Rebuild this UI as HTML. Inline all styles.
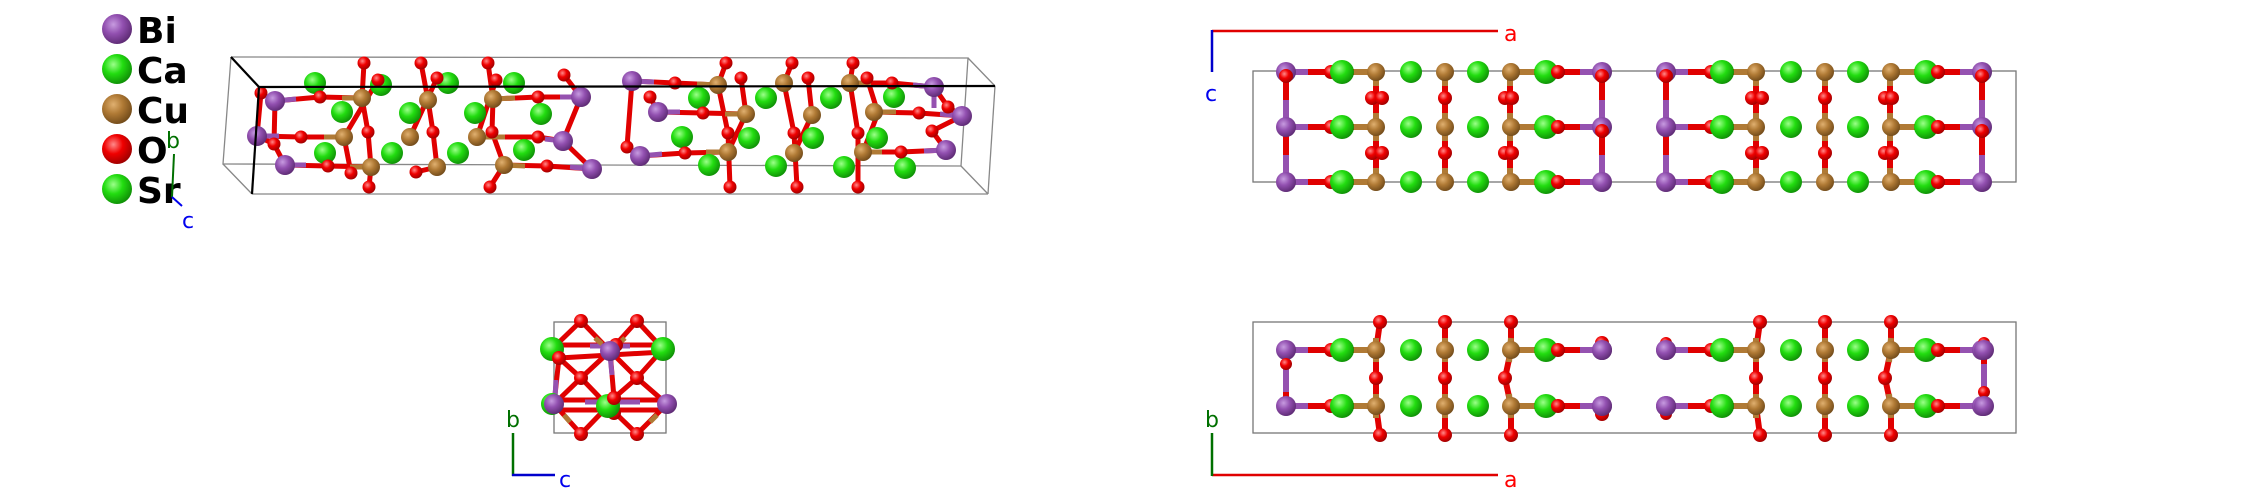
<!DOCTYPE html>
<html><head><meta charset="utf-8"><style>
html,body{margin:0;padding:0;background:#fff;}
svg{display:block;}
.lg{font-family:"DejaVu Sans","Liberation Sans",sans-serif;font-weight:bold;font-size:36px;fill:#000;}
.ax{font-family:"DejaVu Sans","Liberation Sans",sans-serif;font-size:22px;}
</style></head><body>
<svg width="2244" height="504" viewBox="0 0 2244 504" xmlns="http://www.w3.org/2000/svg">
<defs>
<radialGradient id="gBi" cx="0.38" cy="0.35" r="0.7"><stop offset="0" stop-color="#c79be0"/><stop offset="0.45" stop-color="#9250b0"/><stop offset="1" stop-color="#5a2870"/></radialGradient>
<radialGradient id="gG" cx="0.38" cy="0.35" r="0.7"><stop offset="0" stop-color="#9cff8a"/><stop offset="0.45" stop-color="#22dd10"/><stop offset="1" stop-color="#0e8a06"/></radialGradient>
<radialGradient id="gCu" cx="0.38" cy="0.35" r="0.7"><stop offset="0" stop-color="#e0b070"/><stop offset="0.45" stop-color="#b07a35"/><stop offset="1" stop-color="#6e4818"/></radialGradient>
<radialGradient id="gO" cx="0.38" cy="0.35" r="0.7"><stop offset="0" stop-color="#ff8a8a"/><stop offset="0.45" stop-color="#f00000"/><stop offset="1" stop-color="#990000"/></radialGradient>

<g id="trh">
 <g stroke-width="6" fill="none">
  <g stroke="#e00000">
   <line x1="1286" y1="72" x2="1286" y2="182"/>
   <line x1="1602" y1="72" x2="1602" y2="182"/>
   <line x1="1376" y1="72" x2="1376" y2="182"/>
   <line x1="1445" y1="72" x2="1445" y2="182"/>
   <line x1="1510" y1="72" x2="1510" y2="182"/>
  </g>
  <g stroke="#9552b0">
   <line x1="1286" y1="100" x2="1286" y2="127"/><line x1="1286" y1="155" x2="1286" y2="182"/>
   <line x1="1602" y1="100" x2="1602" y2="127"/><line x1="1602" y1="155" x2="1602" y2="182"/>
  </g>
  <g stroke="#b07a35">
   <line x1="1376" y1="72" x2="1376" y2="86"/><line x1="1376" y1="113" x2="1376" y2="141"/><line x1="1376" y1="168" x2="1376" y2="182"/>
   <line x1="1445" y1="72" x2="1445" y2="86"/><line x1="1445" y1="113" x2="1445" y2="141"/><line x1="1445" y1="168" x2="1445" y2="182"/>
   <line x1="1510" y1="72" x2="1510" y2="86"/><line x1="1510" y1="113" x2="1510" y2="141"/><line x1="1510" y1="168" x2="1510" y2="182"/>
  </g>
  <g id="trrow">
   <line x1="1286" y1="72" x2="1308" y2="72" stroke="#9552b0"/>
   <line x1="1308" y1="72" x2="1354" y2="72" stroke="#e00000"/>
   <line x1="1354" y1="72" x2="1376" y2="72" stroke="#b07a35"/>
   <line x1="1510" y1="72" x2="1534" y2="72" stroke="#b07a35"/>
   <line x1="1534" y1="72" x2="1580" y2="72" stroke="#e00000"/>
   <line x1="1580" y1="72" x2="1602" y2="72" stroke="#9552b0"/>
  </g>
  <use href="#trrow" y="55"/><use href="#trrow" y="110"/>
 </g>
 <g id="tratoms">
  <circle cx="1286" cy="72" r="10" fill="url(#gBi)"/>
  <circle cx="1331" cy="72" r="7" fill="url(#gO)"/>
  <circle cx="1342" cy="72" r="12" fill="url(#gG)"/>
  <circle cx="1376" cy="72" r="9" fill="url(#gCu)"/>
  <circle cx="1411" cy="72" r="11" fill="url(#gG)"/>
  <circle cx="1445" cy="72" r="9" fill="url(#gCu)"/>
  <circle cx="1478" cy="72" r="11" fill="url(#gG)"/>
  <circle cx="1511" cy="72" r="9" fill="url(#gCu)"/>
  <circle cx="1546" cy="72" r="12" fill="url(#gG)"/>
  <circle cx="1558" cy="72" r="7" fill="url(#gO)"/>
  <circle cx="1602" cy="72" r="10" fill="url(#gBi)"/>
 </g>
 <use href="#tratoms" y="55"/><use href="#tratoms" y="110"/>
 <circle cx="1286" cy="76" r="7" fill="url(#gO)"/>
 <circle cx="1602" cy="76" r="7" fill="url(#gO)"/>
 <circle cx="1602" cy="131" r="7" fill="url(#gO)"/>
 <g id="trmid" fill="url(#gO)">
  <circle cx="1372" cy="98" r="7"/><circle cx="1382" cy="98" r="7"/>
  <circle cx="1445" cy="98" r="7"/>
  <circle cx="1505" cy="98" r="7"/><circle cx="1512" cy="98" r="7"/>
 </g>
 <use href="#trmid" y="55"/>
</g>

<g id="brh">
 <g stroke-width="6" fill="none">
  <g stroke="#e00000">
   <line x1="1380" y1="322" x2="1376" y2="350"/><line x1="1376" y1="350" x2="1376" y2="406"/><line x1="1376" y1="406" x2="1380" y2="435"/>
   <line x1="1445" y1="322" x2="1445" y2="435"/>
   <line x1="1511" y1="322" x2="1511" y2="350"/><line x1="1511" y1="350" x2="1505" y2="378"/><line x1="1505" y1="378" x2="1511" y2="406"/><line x1="1511" y1="406" x2="1511" y2="435"/>
  </g>
  <g stroke="#b07a35">
   <line x1="1376" y1="338" x2="1376" y2="362"/><line x1="1376" y1="394" x2="1376" y2="418"/>
   <line x1="1445" y1="338" x2="1445" y2="362"/><line x1="1445" y1="394" x2="1445" y2="418"/>
   <line x1="1511" y1="338" x2="1509" y2="362"/><line x1="1509" y1="394" x2="1511" y2="418"/>
  </g>
  <g id="brrow">
   <line x1="1286" y1="350" x2="1308" y2="350" stroke="#9552b0"/>
   <line x1="1308" y1="350" x2="1354" y2="350" stroke="#e00000"/>
   <line x1="1354" y1="350" x2="1376" y2="350" stroke="#b07a35"/>
   <line x1="1511" y1="350" x2="1534" y2="350" stroke="#b07a35"/>
   <line x1="1534" y1="350" x2="1580" y2="350" stroke="#e00000"/>
   <line x1="1580" y1="350" x2="1602" y2="350" stroke="#9552b0"/>
  </g>
  <use href="#brrow" y="56"/>
 </g>
 <g fill="url(#gO)">
  <circle cx="1380" cy="322" r="7"/><circle cx="1380" cy="435" r="7"/><circle cx="1376" cy="378" r="7"/>
  <circle cx="1445" cy="322" r="7"/><circle cx="1445" cy="435" r="7"/><circle cx="1445" cy="378" r="7"/>
  <circle cx="1511" cy="322" r="7"/><circle cx="1511" cy="435" r="7"/><circle cx="1505" cy="378" r="7"/>
 </g>
 <g id="bratoms">
  <circle cx="1286" cy="350" r="10" fill="url(#gBi)"/>
  <circle cx="1331" cy="350" r="7" fill="url(#gO)"/>
  <circle cx="1342" cy="350" r="12" fill="url(#gG)"/>
  <circle cx="1376" cy="350" r="9" fill="url(#gCu)"/>
  <circle cx="1411" cy="350" r="11" fill="url(#gG)"/>
  <circle cx="1445" cy="350" r="9" fill="url(#gCu)"/>
  <circle cx="1478" cy="350" r="11" fill="url(#gG)"/>
  <circle cx="1511" cy="350" r="9" fill="url(#gCu)"/>
  <circle cx="1546" cy="350" r="12" fill="url(#gG)"/>
  <circle cx="1558" cy="350" r="7" fill="url(#gO)"/>
  <circle cx="1602" cy="350" r="10" fill="url(#gBi)"/>
 </g>
 <use href="#bratoms" y="56"/>
</g>
</defs>

<!-- Legend -->
<circle cx="117" cy="29" r="15" fill="url(#gBi)"/>
<circle cx="117" cy="69" r="15" fill="url(#gG)"/>
<circle cx="117" cy="109" r="15" fill="url(#gCu)"/>
<circle cx="117" cy="149" r="15" fill="url(#gO)"/>
<circle cx="117" cy="189" r="15" fill="url(#gG)"/>
<text class="lg" x="137" y="43">Bi</text>
<text class="lg" x="137" y="83">Ca</text>
<text class="lg" x="137" y="123">Cu</text>
<text class="lg" x="137" y="163">O</text>
<text class="lg" x="137" y="203">Sr</text>
<line x1="174" y1="154" x2="172" y2="197" stroke="#007000" stroke-width="2"/>
<line x1="172" y1="197" x2="182" y2="206" stroke="#0000ee" stroke-width="2"/>
<text class="ax" x="166" y="148" fill="#007000">b</text>
<text class="ax" x="182" y="228" fill="#0000ee">c</text>

<g stroke="#888" stroke-width="1.3" fill="none">
 <polyline points="231,57 968,58 961,166 223,164 231,57"/>
 <line x1="968" y1="58" x2="995" y2="86"/>
 <line x1="961" y1="166" x2="988" y2="194"/>
 <line x1="223" y1="164" x2="252" y2="194"/>
 <line x1="252" y1="194" x2="988" y2="194"/>
 <line x1="995" y1="86" x2="988" y2="194"/>
</g>

<g stroke="#e00000" stroke-width="5" fill="none" stroke-linejoin="round">
 <polyline points="364,63 362,98 368,132 371,167 369,187"/>
 <polyline points="378,80 344,137 351,173"/>
 <polyline points="421,63 428,100 433,132 437,167 416,172"/>
 <polyline points="437,78 410,137"/>
 <polyline points="488,63 493,99 492,132 504,165 490,187"/>
 <polyline points="496,80 477,137"/>
 <polyline points="726,63 718,85 728,133 730,187"/>
 <polyline points="741,78 746,114 728,152"/>
 <polyline points="792,63 784,83 794,133 797,187"/>
 <polyline points="808,78 812,115 794,153"/>
 <polyline points="853,63 850,83 858,133 858,187"/>
 <polyline points="867,78 878,113 863,152"/>
 <polyline points="275,101 320,97 362,98"/>
 <polyline points="257,136 301,137 344,137"/>
 <polyline points="285,165 328,166 371,167"/>
 <polyline points="493,99 538,97 581,97"/>
 <polyline points="477,137 538,137 563,141"/>
 <polyline points="504,165 547,166 592,169"/>
 <polyline points="632,81 675,83 718,85"/>
 <polyline points="658,112 703,113 746,114"/>
 <polyline points="640,156 685,153 728,152"/>
 <polyline points="850,83 892,83 934,87"/>
 <polyline points="874,112 919,113 962,116"/>
 <polyline points="863,152 901,152 946,150"/>
 <polyline points="261,93 257,136 274,144 285,165"/>
 <polyline points="275,101 274,144"/>
 <polyline points="564,75 581,97 563,141 592,169"/>
 <polyline points="632,81 627,147 640,156"/>
 <polyline points="650,97 658,112"/>
 <polyline points="934,87 948,107 962,116 932,131 946,150"/>
</g>
<g stroke="#9552b0" stroke-width="5">
 <line x1="275" y1="101" x2="296" y2="99"/><line x1="257" y1="136" x2="279" y2="136"/><line x1="285" y1="165" x2="306" y2="165"/>
 <line x1="581" y1="97" x2="560" y2="97"/><line x1="563" y1="141" x2="545" y2="139"/><line x1="592" y1="169" x2="570" y2="167"/>
 <line x1="632" y1="81" x2="654" y2="82"/><line x1="658" y1="112" x2="680" y2="112"/><line x1="640" y1="156" x2="662" y2="154"/>
 <line x1="934" y1="87" x2="913" y2="85"/><line x1="962" y1="116" x2="940" y2="114"/><line x1="946" y1="150" x2="924" y2="151"/>
 <line x1="934" y1="87" x2="934" y2="108"/>
</g>
<g stroke="#b07a35" stroke-width="5">
 <line x1="362" y1="98" x2="342" y2="98"/><line x1="344" y1="137" x2="324" y2="137"/><line x1="371" y1="167" x2="350" y2="167"/>
 <line x1="493" y1="99" x2="515" y2="98"/><line x1="477" y1="137" x2="505" y2="137"/><line x1="504" y1="165" x2="525" y2="166"/>
 <line x1="718" y1="85" x2="697" y2="84"/><line x1="746" y1="114" x2="725" y2="114"/><line x1="728" y1="152" x2="706" y2="152"/>
 <line x1="850" y1="83" x2="871" y2="83"/><line x1="874" y1="112" x2="896" y2="112"/><line x1="863" y1="152" x2="882" y2="152"/>
</g>

<g fill="url(#gG)">
 <circle cx="315" cy="83" r="11"/><circle cx="381" cy="85" r="11"/><circle cx="448" cy="83" r="11"/><circle cx="514" cy="83" r="11"/>
 <circle cx="699" cy="98" r="11"/><circle cx="766" cy="98" r="11"/><circle cx="831" cy="98" r="11"/><circle cx="894" cy="97" r="11"/>
</g>
<g fill="url(#gO)">
 <circle cx="364" cy="63" r="6.5"/><circle cx="421" cy="63" r="6.5"/><circle cx="488" cy="63" r="6.5"/>
 <circle cx="726" cy="63" r="6.5"/><circle cx="792" cy="63" r="6.5"/><circle cx="853" cy="63" r="6.5"/>
 <circle cx="378" cy="80" r="6.5"/><circle cx="437" cy="78" r="6.5"/><circle cx="496" cy="80" r="6.5"/><circle cx="564" cy="75" r="6.5"/>
 <circle cx="741" cy="78" r="6.5"/><circle cx="808" cy="78" r="6.5"/><circle cx="867" cy="78" r="6.5"/>
 <circle cx="261" cy="93" r="6.5"/><circle cx="650" cy="97" r="6.5"/><circle cx="948" cy="107" r="6.5"/>
 <circle cx="320" cy="97" r="6.5"/><circle cx="538" cy="97" r="6.5"/><circle cx="675" cy="83" r="6.5"/><circle cx="892" cy="83" r="6.5"/>
</g>
<g>
 <circle cx="275" cy="101" r="10" fill="url(#gBi)"/><circle cx="581" cy="97" r="10" fill="url(#gBi)"/>
 <circle cx="632" cy="81" r="10" fill="url(#gBi)"/><circle cx="934" cy="87" r="10" fill="url(#gBi)"/>
 <circle cx="362" cy="98" r="9" fill="url(#gCu)"/><circle cx="428" cy="100" r="9" fill="url(#gCu)"/><circle cx="493" cy="99" r="9" fill="url(#gCu)"/>
 <circle cx="718" cy="85" r="9" fill="url(#gCu)"/><circle cx="784" cy="83" r="9" fill="url(#gCu)"/><circle cx="850" cy="83" r="9" fill="url(#gCu)"/>
</g>
<g fill="url(#gG)">
 <circle cx="342" cy="112" r="11"/><circle cx="410" cy="113" r="11"/><circle cx="475" cy="113" r="11"/><circle cx="541" cy="114" r="11"/>
 <circle cx="682" cy="137" r="11"/><circle cx="749" cy="138" r="11"/><circle cx="813" cy="138" r="11"/><circle cx="877" cy="138" r="11"/>
</g>
<g fill="url(#gO)">
 <circle cx="368" cy="132" r="6.5"/><circle cx="433" cy="132" r="6.5"/><circle cx="492" cy="132" r="6.5"/>
 <circle cx="728" cy="133" r="6.5"/><circle cx="794" cy="133" r="6.5"/><circle cx="858" cy="133" r="6.5"/>
 <circle cx="301" cy="137" r="6.5"/><circle cx="538" cy="137" r="6.5"/><circle cx="703" cy="113" r="6.5"/><circle cx="919" cy="113" r="6.5"/>
 <circle cx="274" cy="144" r="6.5"/><circle cx="627" cy="147" r="6.5"/><circle cx="932" cy="131" r="6.5"/>
</g>
<g>
 <circle cx="257" cy="136" r="10" fill="url(#gBi)"/><circle cx="563" cy="141" r="10" fill="url(#gBi)"/>
 <circle cx="658" cy="112" r="10" fill="url(#gBi)"/><circle cx="962" cy="116" r="10" fill="url(#gBi)"/>
 <circle cx="344" cy="137" r="9" fill="url(#gCu)"/><circle cx="410" cy="137" r="9" fill="url(#gCu)"/><circle cx="477" cy="137" r="9" fill="url(#gCu)"/>
 <circle cx="746" cy="114" r="9" fill="url(#gCu)"/><circle cx="812" cy="115" r="9" fill="url(#gCu)"/><circle cx="874" cy="112" r="9" fill="url(#gCu)"/>
</g>
<g fill="url(#gG)">
 <circle cx="325" cy="153" r="11"/><circle cx="392" cy="153" r="11"/><circle cx="458" cy="153" r="11"/><circle cx="524" cy="150" r="11"/>
 <circle cx="709" cy="165" r="11"/><circle cx="776" cy="166" r="11"/><circle cx="844" cy="167" r="11"/><circle cx="905" cy="168" r="11"/>
</g>
<g fill="url(#gO)">
 <circle cx="328" cy="166" r="6.5"/><circle cx="547" cy="166" r="6.5"/><circle cx="685" cy="153" r="6.5"/><circle cx="901" cy="152" r="6.5"/>
 <circle cx="351" cy="173" r="6.5"/><circle cx="416" cy="172" r="6.5"/>
 <circle cx="369" cy="187" r="6.5"/><circle cx="490" cy="187" r="6.5"/>
 <circle cx="730" cy="187" r="6.5"/><circle cx="797" cy="187" r="6.5"/><circle cx="858" cy="187" r="6.5"/>
</g>
<g>
 <circle cx="285" cy="165" r="10" fill="url(#gBi)"/><circle cx="592" cy="169" r="10" fill="url(#gBi)"/>
 <circle cx="640" cy="156" r="10" fill="url(#gBi)"/><circle cx="946" cy="150" r="10" fill="url(#gBi)"/>
 <circle cx="371" cy="167" r="9" fill="url(#gCu)"/><circle cx="437" cy="167" r="9" fill="url(#gCu)"/><circle cx="504" cy="165" r="9" fill="url(#gCu)"/>
 <circle cx="728" cy="152" r="9" fill="url(#gCu)"/><circle cx="794" cy="153" r="9" fill="url(#gCu)"/><circle cx="863" cy="152" r="9" fill="url(#gCu)"/>
</g>
<g stroke="#000" stroke-width="2.2" fill="none">
 <line x1="231" y1="57" x2="259" y2="87"/>
 <line x1="259" y1="87" x2="995" y2="86"/>
 <line x1="259" y1="87" x2="252" y2="194"/>
</g>

<!-- top-right view -->
<rect x="1253" y="71" width="763" height="111" fill="none" stroke="#777" stroke-width="1.3"/>
<use href="#trh"/>
<use href="#trh" x="380"/>
<line x1="1212" y1="31" x2="1498" y2="31" stroke="#e00000" stroke-width="2.5"/>
<line x1="1212" y1="30" x2="1212" y2="72" stroke="#0000cc" stroke-width="2.5"/>
<text class="ax" x="1504" y="41" fill="#ff0000">a</text>
<text class="ax" x="1205" y="101" fill="#0000ee">c</text>

<!-- bottom-right view -->
<rect x="1253" y="322" width="763" height="111" fill="none" stroke="#777" stroke-width="1.3"/>
<g stroke-width="6">
 <line x1="1286" y1="350" x2="1286" y2="406" stroke="#e00000"/>
 <line x1="1286" y1="364" x2="1286" y2="392" stroke="#9552b0"/>
 <line x1="1984" y1="350" x2="1984" y2="406" stroke="#e00000"/>
 <line x1="1984" y1="364" x2="1984" y2="392" stroke="#9552b0"/>
</g>
<use href="#brh"/>
<use href="#brh" x="380"/>
<g fill="url(#gO)">
 <circle cx="1286" cy="364" r="6"/>
 <circle cx="1602" cy="343" r="7"/><circle cx="1602" cy="414" r="7"/>
 <circle cx="1666" cy="343" r="6"/><circle cx="1666" cy="414" r="6"/>
 <circle cx="1984" cy="392" r="6"/><circle cx="1984" cy="343" r="6"/>
</g>
<circle cx="1602" cy="350" r="10" fill="url(#gBi)"/><circle cx="1602" cy="406" r="10" fill="url(#gBi)"/>
<circle cx="1666" cy="350" r="10" fill="url(#gBi)"/><circle cx="1666" cy="406" r="10" fill="url(#gBi)"/>
<circle cx="1984" cy="350" r="10" fill="url(#gBi)"/><circle cx="1984" cy="406" r="10" fill="url(#gBi)"/>
<line x1="1212" y1="475" x2="1498" y2="475" stroke="#e00000" stroke-width="2.5"/>
<line x1="1212" y1="433" x2="1212" y2="476" stroke="#007000" stroke-width="2.5"/>
<text class="ax" x="1504" y="487" fill="#ff0000">a</text>
<text class="ax" x="1205" y="427" fill="#007000">b</text>

<!-- bottom-left view -->
<rect x="554" y="322" width="112" height="111" fill="none" stroke="#777" stroke-width="1.3"/>
<g stroke="#e00000" stroke-width="5" fill="none">
 <line x1="581" y1="321" x2="552" y2="349"/><line x1="581" y1="321" x2="610" y2="351"/>
 <line x1="637" y1="321" x2="610" y2="351"/><line x1="637" y1="321" x2="663" y2="349"/>
 <line x1="559" y1="358" x2="581" y2="378"/><line x1="610" y1="351" x2="581" y2="378"/>
 <line x1="610" y1="351" x2="637" y2="378"/><line x1="663" y1="349" x2="637" y2="378"/>
 <line x1="581" y1="378" x2="554" y2="404"/><line x1="581" y1="378" x2="608" y2="406"/>
 <line x1="637" y1="378" x2="614" y2="398"/><line x1="637" y1="378" x2="667" y2="404"/>
 <line x1="554" y1="404" x2="581" y2="434"/><line x1="608" y1="406" x2="581" y2="434"/>
 <line x1="608" y1="406" x2="637" y2="434"/><line x1="667" y1="404" x2="637" y2="434"/>
 <line x1="559" y1="358" x2="554" y2="404"/>
 <line x1="610" y1="351" x2="614" y2="398"/>
 <line x1="552" y1="345" x2="663" y2="345"/><line x1="559" y1="358" x2="663" y2="352"/>
 <line x1="554" y1="400" x2="667" y2="400"/><line x1="554" y1="410" x2="667" y2="410"/>
</g>
<g stroke="#9552b0" stroke-width="5">
 <line x1="590" y1="346" x2="630" y2="346"/><line x1="585" y1="402" x2="640" y2="402"/>
 <line x1="610" y1="355" x2="612" y2="375"/><line x1="556" y1="380" x2="555" y2="398"/>
</g>
<g stroke="#b07a35" stroke-width="5">
 <line x1="595" y1="338" x2="602" y2="344"/><line x1="625" y1="338" x2="618" y2="344"/>
 <line x1="564" y1="415" x2="570" y2="422"/><line x1="657" y1="415" x2="650" y2="422"/>
</g>
<g fill="url(#gO)">
 <circle cx="581" cy="321" r="7"/><circle cx="637" cy="321" r="7"/>
 <circle cx="581" cy="378" r="7"/><circle cx="637" cy="378" r="7"/>
 <circle cx="581" cy="434" r="7"/><circle cx="637" cy="434" r="7"/>
 <circle cx="614" cy="413" r="7"/><circle cx="616" cy="345" r="7"/>
</g>
<circle cx="552" cy="349" r="12" fill="url(#gG)"/>
<circle cx="663" cy="349" r="12" fill="url(#gG)"/>
<circle cx="559" cy="358" r="7" fill="url(#gO)"/>
<circle cx="610" cy="351" r="10" fill="url(#gBi)"/>
<circle cx="552" cy="404" r="11" fill="url(#gG)"/>
<circle cx="554" cy="404" r="10" fill="url(#gBi)"/>
<circle cx="667" cy="404" r="10" fill="url(#gBi)"/>
<circle cx="608" cy="406" r="12" fill="url(#gG)"/>
<circle cx="614" cy="398" r="7" fill="url(#gO)"/>
<line x1="513" y1="433" x2="513" y2="476" stroke="#007000" stroke-width="2.5"/>
<line x1="512" y1="475" x2="555" y2="475" stroke="#0000cc" stroke-width="2.5"/>
<text class="ax" x="506" y="427" fill="#007000">b</text>
<text class="ax" x="559" y="487" fill="#0000ee">c</text>
</svg>
</body></html>
